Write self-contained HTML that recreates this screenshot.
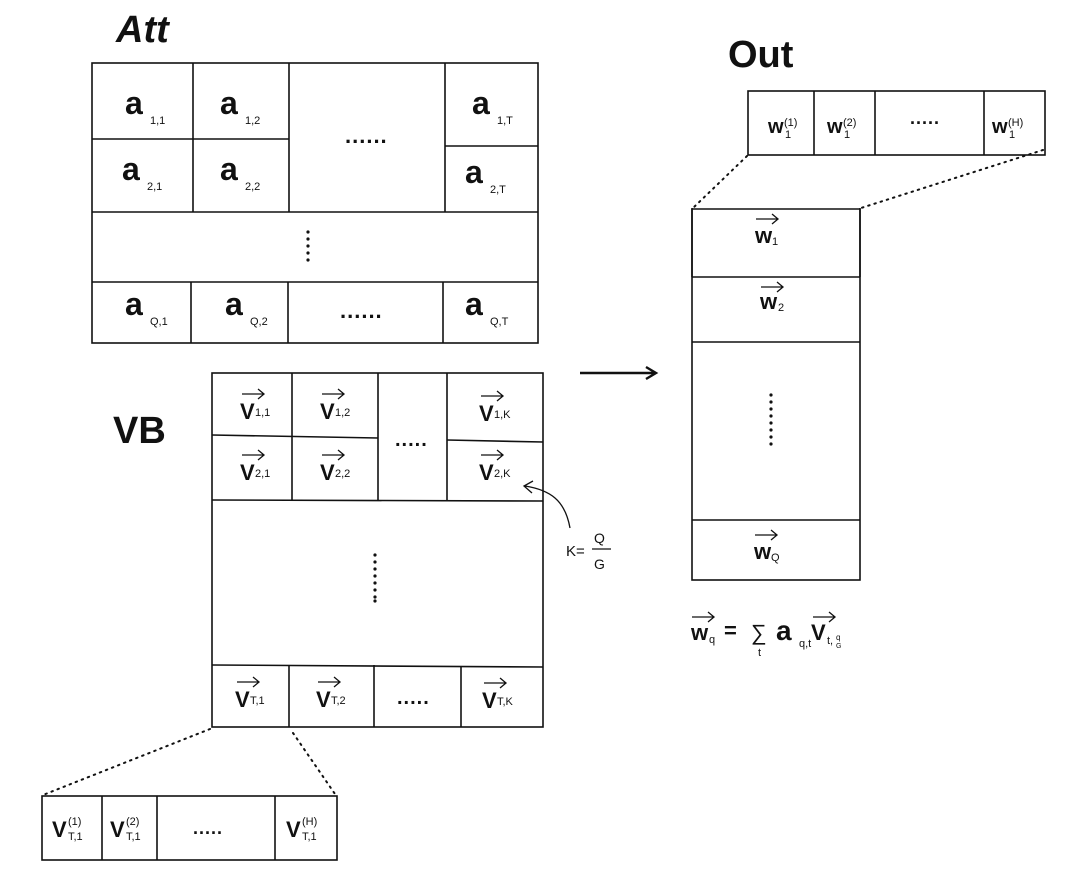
<!DOCTYPE html>
<html><head><meta charset="utf-8"><style>
html,body{margin:0;padding:0;background:#fff;}
svg{display:block;}
text{font-family:"Liberation Sans",sans-serif;fill:#111;}
.t{font-size:38px;font-weight:bold;}
.a{font-size:32px;font-weight:bold;}
.v{font-size:22px;font-weight:bold;}
.s{font-size:11px;}
.d{font-size:22px;font-weight:bold;letter-spacing:1px;}
</style></head><body>
<svg width="1080" height="874" viewBox="0 0 1080 874" xmlns="http://www.w3.org/2000/svg">
<defs>
<g id="ar"><path d="M0 5 H22 M16 0 L22 5 L16 10" fill="none" stroke="#111" stroke-width="1.3"/></g>
</defs>
<g fill="none" stroke="#111" stroke-width="1.6">
<!-- Att -->
<rect x="92" y="63" width="446" height="280"/>
<line x1="193" y1="63" x2="193" y2="212"/><line x1="289" y1="63" x2="289" y2="212"/><line x1="445" y1="63" x2="445" y2="212"/>
<line x1="92" y1="139" x2="289" y2="139"/><line x1="445" y1="146" x2="538" y2="146"/>
<line x1="92" y1="212" x2="538" y2="212"/><line x1="92" y1="282" x2="538" y2="282"/>
<line x1="191" y1="282" x2="191" y2="343"/><line x1="288" y1="282" x2="288" y2="343"/><line x1="443" y1="282" x2="443" y2="343"/>
<!-- VB -->
<rect x="212" y="373" width="331" height="354"/>
<line x1="292" y1="373" x2="292" y2="500"/><line x1="378" y1="373" x2="378" y2="500"/><line x1="447" y1="373" x2="447" y2="500"/>
<line x1="212" y1="435" x2="378" y2="438"/><line x1="447" y1="440" x2="543" y2="442"/>
<line x1="212" y1="500" x2="543" y2="501"/><line x1="212" y1="665" x2="543" y2="667"/>
<line x1="289" y1="665" x2="289" y2="727"/><line x1="374" y1="665" x2="374" y2="727"/><line x1="461" y1="667" x2="461" y2="727"/>
<!-- Out strip -->
<rect x="748" y="91" width="297" height="64"/>
<line x1="814" y1="91" x2="814" y2="155"/><line x1="875" y1="91" x2="875" y2="155"/><line x1="984" y1="91" x2="984" y2="155"/>
<!-- Out big -->
<rect x="692" y="197" width="168" height="383"/>
<line x1="692" y1="277" x2="860" y2="277"/><line x1="692" y1="342" x2="860" y2="342"/><line x1="692" y1="520" x2="860" y2="520"/>
<!-- bottom strip -->
<rect x="42" y="796" width="295" height="64"/>
<line x1="102" y1="796" x2="102" y2="860"/><line x1="157" y1="796" x2="157" y2="860"/><line x1="275" y1="796" x2="275" y2="860"/>
</g>
<!-- fix Out big top at 209 -->
<rect x="691" y="190" width="172" height="18" fill="#fff"/>
<line x1="692" y1="209" x2="860" y2="209" stroke="#111" stroke-width="1.6"/>
<line x1="692" y1="209" x2="692" y2="277" stroke="#111" stroke-width="1.6"/>
<line x1="860" y1="209" x2="860" y2="277" stroke="#111" stroke-width="1.6"/>
<!-- dotted connectors -->
<g stroke="#111" stroke-width="2" stroke-dasharray="1.5 5" stroke-linecap="round" fill="none">
<line x1="747" y1="156" x2="693" y2="208"/>
<line x1="1043" y1="150" x2="861" y2="208"/>
<line x1="210" y1="729" x2="43" y2="795"/>
<line x1="293" y1="733" x2="335" y2="794"/>
</g>
<!-- main arrow -->
<path d="M580 373 H654 M646 367 L656 373 L646 379" stroke="#111" stroke-width="2.4" fill="none"/>
<!-- K arrow -->
<path d="M570 528 C565 500 550 490 525 486 M533 481 L524 486 L532 493" stroke="#111" stroke-width="1.3" fill="none"/>
<!-- titles -->
<text class="t" x="116" y="42" font-style="italic">Att</text>
<text class="t" x="728" y="67">Out</text>
<text class="t" x="113" y="443">VB</text>
<!-- Att labels -->
<text class="a" x="125" y="114">a</text><text class="s" x="150" y="124">1,1</text>
<text class="a" x="220" y="114">a</text><text class="s" x="245" y="124">1,2</text>
<text class="a" x="472" y="114">a</text><text class="s" x="497" y="124">1,T</text>
<text class="a" x="122" y="180">a</text><text class="s" x="147" y="190">2,1</text>
<text class="a" x="220" y="180">a</text><text class="s" x="245" y="190">2,2</text>
<text class="a" x="465" y="183">a</text><text class="s" x="490" y="193">2,T</text>
<text class="a" x="125" y="315">a</text><text class="s" x="150" y="325">Q,1</text>
<text class="a" x="225" y="315">a</text><text class="s" x="250" y="325">Q,2</text>
<text class="a" x="465" y="315">a</text><text class="s" x="490" y="325">Q,T</text>
<text class="d" x="345" y="143">......</text>
<text class="d" x="340" y="318">......</text>
<g fill="#111"><circle cx="308" cy="232" r="1.6"/><circle cx="308" cy="239" r="1.6"/><circle cx="308" cy="246" r="1.6"/><circle cx="308" cy="253" r="1.6"/><circle cx="308" cy="260" r="1.6"/></g>
<!-- VB labels -->
<g>
<use href="#ar" x="242" y="389"/><text class="v" x="240" y="419">V</text><text class="s" x="255" y="416">1,1</text>
<use href="#ar" x="322" y="389"/><text class="v" x="320" y="419">V</text><text class="s" x="335" y="416">1,2</text>
<use href="#ar" x="481" y="391"/><text class="v" x="479" y="421">V</text><text class="s" x="494" y="418">1,K</text>
<use href="#ar" x="242" y="450"/><text class="v" x="240" y="480">V</text><text class="s" x="255" y="477">2,1</text>
<use href="#ar" x="322" y="450"/><text class="v" x="320" y="480">V</text><text class="s" x="335" y="477">2,2</text>
<use href="#ar" x="481" y="450"/><text class="v" x="479" y="480">V</text><text class="s" x="494" y="477">2,K</text>
<use href="#ar" x="237" y="677"/><text class="v" x="235" y="707">V</text><text class="s" x="250" y="704">T,1</text>
<use href="#ar" x="318" y="677"/><text class="v" x="316" y="707">V</text><text class="s" x="331" y="704">T,2</text>
<use href="#ar" x="484" y="678"/><text class="v" x="482" y="708">V</text><text class="s" x="497" y="705">T,K</text>
</g>
<text class="d" x="395" y="446" style="font-size:20px">.....</text>
<text class="d" x="397" y="704" style="font-size:20px">.....</text>
<g fill="#111"><circle cx="375" cy="555" r="1.6"/><circle cx="375" cy="562" r="1.6"/><circle cx="375" cy="569" r="1.6"/><circle cx="375" cy="576" r="1.6"/><circle cx="375" cy="583" r="1.6"/><circle cx="375" cy="590" r="1.6"/><circle cx="375" cy="597" r="1.6"/><circle cx="375" cy="601" r="1.6"/></g>
<!-- K = Q/G -->
<text x="566" y="556" style="font-size:15px">K=</text>
<text x="594" y="543" style="font-size:14px">Q</text>
<line x1="592" y1="549" x2="611" y2="549" stroke="#111" stroke-width="1.3"/>
<text x="594" y="569" style="font-size:14px">G</text>
<!-- Out strip labels -->
<text class="v" x="768" y="133" style="font-size:20px">w</text><text class="s" x="784" y="126">(1)</text><text class="s" x="785" y="138">1</text>
<text class="v" x="827" y="133" style="font-size:20px">w</text><text class="s" x="843" y="126">(2)</text><text class="s" x="844" y="138">1</text>
<text class="d" x="910" y="124" style="font-size:18px">.....</text>
<text class="v" x="992" y="133" style="font-size:20px">w</text><text class="s" x="1008" y="126">(H)</text><text class="s" x="1009" y="138">1</text>
<!-- Out big labels -->
<use href="#ar" x="756" y="214"/><text class="v" x="755" y="243">w</text><text class="s" x="772" y="245">1</text>
<use href="#ar" x="761" y="273" transform="translate(0,9)"/><text class="v" x="760" y="300" transform="translate(0,9)">w</text><text class="s" x="778" y="311">2</text>
<use href="#ar" x="755" y="530"/><text class="v" x="754" y="559">w</text><text class="s" x="771" y="561">Q</text>
<g fill="#111"><circle cx="771" cy="395" r="1.6"/><circle cx="771" cy="402" r="1.6"/><circle cx="771" cy="409" r="1.6"/><circle cx="771" cy="416" r="1.6"/><circle cx="771" cy="423" r="1.6"/><circle cx="771" cy="430" r="1.6"/><circle cx="771" cy="437" r="1.6"/><circle cx="771" cy="444" r="1.6"/></g>
<!-- formula -->
<use href="#ar" x="692" y="612"/><text class="v" x="691" y="640">w</text><text class="s" x="709" y="643">q</text>
<text x="724" y="638" style="font-size:22px;font-weight:bold">=</text>
<text x="751" y="640" style="font-size:22px">∑</text><text class="s" x="758" y="656">t</text>
<text class="a" x="776" y="640" style="font-size:28px">a</text><text class="s" x="799" y="647">q,t</text>
<use href="#ar" x="813" y="612"/><text class="v" x="811" y="640">V</text><text class="s" x="827" y="644">t,</text><text x="836" y="640" style="font-size:8px">q</text><text x="836" y="648" style="font-size:7px">G</text>
<!-- bottom strip labels -->
<text class="v" x="52" y="837">V</text><text class="s" x="68" y="825">(1)</text><text class="s" x="68" y="840">T,1</text>
<text class="v" x="110" y="837">V</text><text class="s" x="126" y="825">(2)</text><text class="s" x="126" y="840">T,1</text>
<text class="d" x="193" y="834" style="font-size:18px">.....</text>
<text class="v" x="286" y="837">V</text><text class="s" x="302" y="825">(H)</text><text class="s" x="302" y="840">T,1</text>
</svg>
</body></html>
